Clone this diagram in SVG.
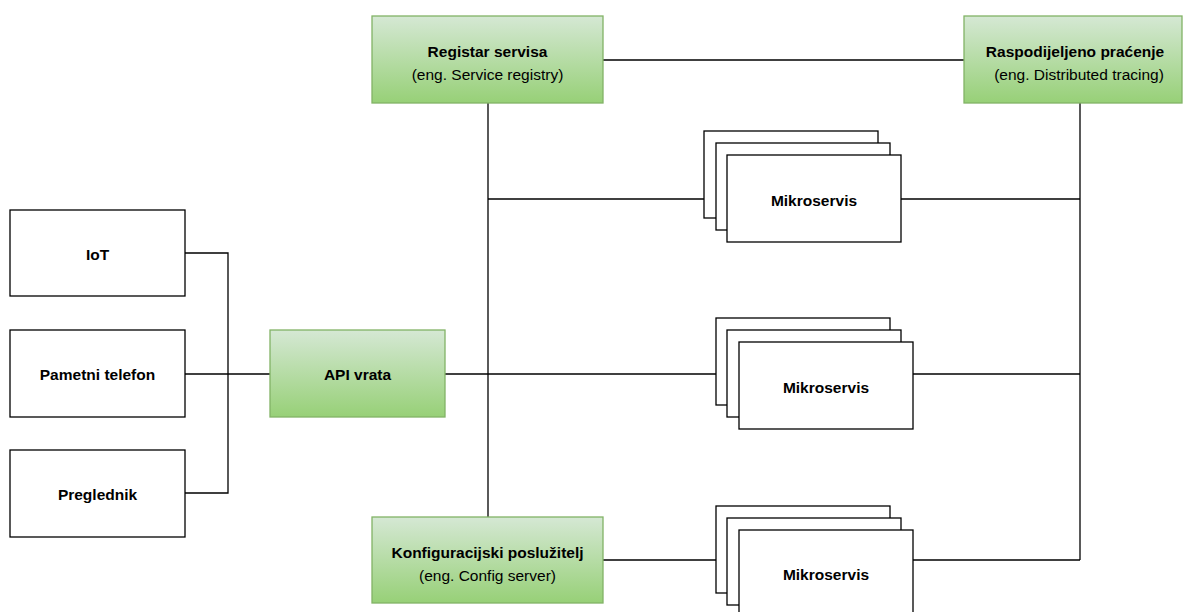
<svg xmlns="http://www.w3.org/2000/svg" width="1184" height="612" viewBox="0 0 1184 612">
<defs>
<linearGradient id="g" x1="0" y1="0" x2="0" y2="1">
<stop offset="0" stop-color="#d5e8d4"/>
<stop offset="1" stop-color="#97d077"/>
</linearGradient>
</defs>
<style>
.w{fill:#ffffff;stroke:#000000;stroke-width:1.3}
.gr{fill:url(#g);stroke:#82b366;stroke-width:1.3}
.c{fill:none;stroke:#000000;stroke-width:1.3}
text{font-family:"Liberation Sans",Arial,Helvetica,sans-serif;font-size:15.5px;fill:#000;text-anchor:middle}
.b{font-weight:bold}
</style>
<rect width="1184" height="612" fill="#ffffff"/>
<g id="connectors">
<path class="c" d="M603 60H964"/>
<path class="c" d="M488 103V517"/>
<path class="c" d="M488 199H704"/>
<path class="c" d="M445 374H716"/>
<path class="c" d="M603 560H716"/>
<path class="c" d="M1080 103V560"/>
<path class="c" d="M901 199H1080"/>
<path class="c" d="M913 374H1080"/>
<path class="c" d="M913 560H1080"/>
<path class="c" d="M185 253H228V493H185"/>
<path class="c" d="M185 374H270"/>
</g>
<g id="registar">
<rect class="gr" x="372" y="16" width="231" height="87"/>
<text class="b" x="487.5" y="57">Registar servisa</text>
<text x="487.5" y="80">(eng. Service registry)</text>
</g>
<g id="tracing">
<rect class="gr" x="964" y="16" width="218" height="87"/>
<text class="b" x="1075" y="57">Raspodijeljeno praćenje</text>
<text x="1079" y="80">(eng. Distributed tracing)</text>
</g>
<g id="config">
<rect class="gr" x="372" y="517" width="231" height="86"/>
<text class="b" x="487.5" y="558">Konfiguracijski poslužitelj</text>
<text x="487.5" y="581">(eng. Config server)</text>
</g>
<g id="api">
<rect class="gr" x="270" y="330" width="175" height="87"/>
<text class="b" x="357.5" y="380">API vrata</text>
</g>
<g id="iot">
<rect class="w" x="10" y="210" width="175" height="86"/>
<text class="b" x="97.5" y="260">IoT</text>
</g>
<g id="telefon">
<rect class="w" x="10" y="330" width="175" height="87"/>
<text class="b" x="97.5" y="380">Pametni telefon</text>
</g>
<g id="preglednik">
<rect class="w" x="10" y="450" width="175" height="87"/>
<text class="b" x="97.5" y="500">Preglednik</text>
</g>
<g id="mikroservis1">
<rect class="w" x="704" y="131" width="174" height="87"/>
<rect class="w" x="716" y="143" width="174" height="87"/>
<rect class="w" x="727" y="155" width="174" height="87"/>
<text class="b" x="814" y="206">Mikroservis</text>
</g>
<g id="mikroservis2">
<rect class="w" x="716" y="318" width="174" height="87"/>
<rect class="w" x="727" y="330" width="174" height="87"/>
<rect class="w" x="739" y="342" width="174" height="87"/>
<text class="b" x="826" y="393">Mikroservis</text>
</g>
<g id="mikroservis3">
<rect class="w" x="716" y="506" width="174" height="87"/>
<rect class="w" x="727" y="518" width="174" height="87"/>
<rect class="w" x="739" y="530" width="174" height="87"/>
<text class="b" x="826" y="580">Mikroservis</text>
</g>
</svg>
